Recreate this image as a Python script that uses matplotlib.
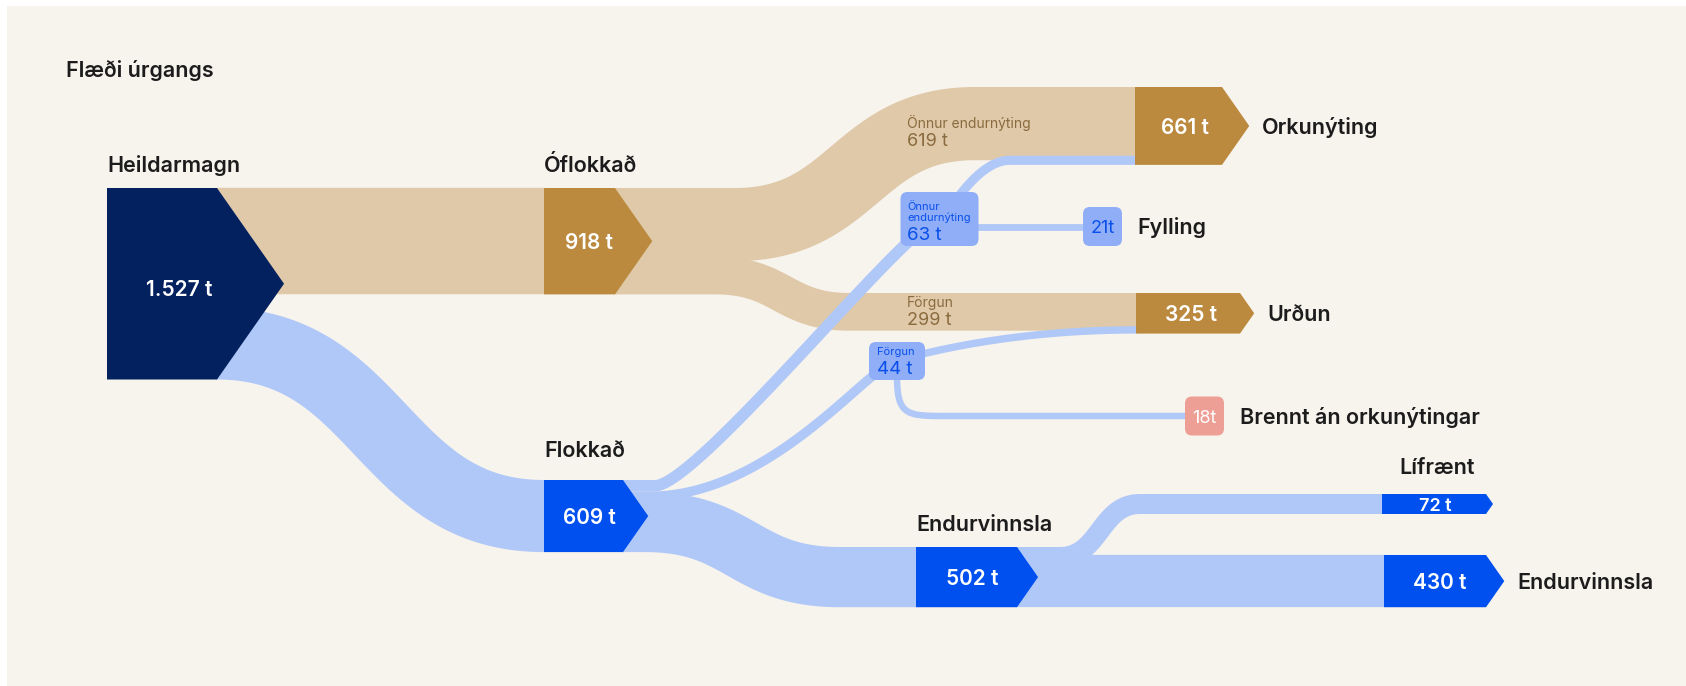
import numpy as np
import matplotlib.pyplot as plt
from matplotlib.patches import Polygon, FancyBboxPatch, Rectangle

plt.rcParams['font.family'] = ['Inter', 'DejaVu Sans']

# ---- gögn (tonn) ----
title = 'Flæði úrgangs'

node_keys = ['heild', 'ofl', 'fl', 'orka', 'urdun', 'endv', 'lif', 'endv2']
node_labels = ['Heildarmagn', 'Óflokkað', 'Flokkað', 'Orkunýting', 'Urðun',
               'Endurvinnsla', 'Lífrænt', 'Endurvinnsla']
node_values = [1527, 918, 609, 661, 325, 502, 72, 430]

box_keys = ['endn', 'forg', 'fyll', 'brennt']
box_labels = ['Önnur\nendurnýting', 'Förgun', 'Fylling', 'Brennt án orkunýtingar']
box_values = [63, 44, 21, 18]

link_src = ['heild', 'heild', 'ofl', 'ofl', 'fl', 'fl', 'fl', 'endn', 'endn', 'forg', 'forg', 'endv', 'endv']
link_dst = ['ofl', 'fl', 'orka', 'urdun', 'endn', 'forg', 'endv', 'orka', 'fyll', 'urdun', 'brennt', 'lif', 'endv2']
link_val = [918, 609, 619, 299, 63, 44, 502, 42, 21, 26, 18, 72, 430]

band_label_text = ['Önnur endurnýting', 'Förgun']
band_label_link = [2, 3]

# ---- útlit ----
W, H, DPI = 1686, 686, 100
PX_PER_T = 0.111
MIN_PX = 4.5
GAP = 13

BG = '#F7F3ED'
NAVY = '#03215F'
GOLD = '#BB8A3F'
TAN = '#E0C9A9'
BLUE = '#0050F0'
LBLUE = '#B0C8F8'
BOXBLUE = '#8FAEF7'
SALMON = '#EE9F95'
DARK = '#1C1C1C'
TANTXT = '#8A6B3F'
BOXTXT = '#0A4FEA'


def thick(v):
    return MIN_PX + PX_PER_T * v


def fmt(v, space=True):
    return f'{v:,}'.replace(',', '.') + (' t' if space else 't')


node_x = {'heild': 107, 'ofl': 544, 'fl': 544, 'orka': 1135, 'urdun': 1136,
          'endv': 916, 'lif': 1382, 'endv2': 1384}
node_top = {'heild': 188, 'ofl': 188, 'fl': 480, 'orka': 87, 'urdun': 293,
            'endv': 547, 'lif': 494}
node_rw = {'heild': 110, 'ofl': 71, 'fl': 79, 'orka': 87, 'urdun': 104,
           'endv': 101, 'lif': 104, 'endv2': 102}
node_col = {'heild': NAVY, 'ofl': GOLD, 'fl': BLUE, 'orka': GOLD, 'urdun': GOLD,
            'endv': BLUE, 'lif': BLUE, 'endv2': BLUE}
node_lab = {'heild': ('above', 24), 'ofl': ('above', 24), 'fl': ('above', 31),
            'endv': ('above', 23.5), 'lif': ('centre', 27.5),
            'orka': ('right', 13), 'urdun': ('right', 13), 'endv2': ('right', 13)}
node_val_size = {'lif': 13}
node_val_dy = {'heild': 5}

# box centre x, centre y, width, height, colour
box_geo = {'endn': (939.5, 219, 78, 54, BOXBLUE), 'forg': (897, 361, 56, 38, BOXBLUE),
           'fyll': (1102.5, 226.5, 39, 39, BOXBLUE), 'brennt': (1204.5, 416, 39, 39, SALMON)}

# link shapes: ('s', curve start x, curve end x, k0, k1)
link_shape = [('line',), ('s', 217, 544, .5, .5), ('s', 735, 975, .5, .5),
              ('s', 715, 850, .5, .5), ('s', 655, None, .15, .1), ('s', 650, None, .5, .1),
              ('s', 645, 840, .5, .5), ('s', None, 1010, .1, .5), ('hline',),
              ('s', None, 1136, 0, .6), ('corner',), ('s', 1060, 1140, .5, .5), ('line',)]
link_col = [TAN, LBLUE, TAN, TAN, LBLUE, LBLUE, LBLUE, LBLUE, LBLUE, LBLUE, LBLUE, LBLUE, LBLUE]
band_label_xy = [(907, 122.5), (907, 301.7)]

# ---- reikningur ----
vals = dict(zip(node_keys, node_values))
h = {k: thick(v) for k, v in vals.items()}
lw = [thick(v) for v in link_val]
h['heild'] = lw[0] + GAP + lw[1]
h['lif'] = max(h['lif'], 20)
lw[11] = h['lif']
node_top['endv2'] = node_top['endv'] + h['endv'] - h['endv2']


def ports(idx, top, height):
    ys = {}
    y = top
    for i in idx[:-1]:
        ys[i] = y + lw[i] / 2
        y += lw[i]
    ys[idx[-1]] = top + height - lw[idx[-1]] / 2
    return ys


out_y, in_y = {}, {}
for k in node_keys:
    o = [i for i, s in enumerate(link_src) if s == k]
    n = [i for i, d in enumerate(link_dst) if d == k]
    if o:
        out_y.update(ports(o, node_top[k], h[k]))
    if n:
        in_y.update(ports(n, node_top[k], h[k]))


def bezier(p0, p1, p2, p3, n=120):
    t = np.linspace(0, 1, n)[:, None]
    return ((1 - t) ** 3 * p0 + 3 * (1 - t) ** 2 * t * p1
            + 3 * (1 - t) * t ** 2 * p2 + t ** 3 * p3)


fig = plt.figure(figsize=(W / DPI, H / DPI), dpi=DPI, facecolor='white')
ax = fig.add_axes([0, 0, 1, 1])
ax.set_xlim(0, W)
ax.set_ylim(H, 0)
ax.axis('off')
ax.add_patch(Rectangle((7, 6), W - 7, H - 6, color=BG, zorder=0, lw=0))


def put(x, y, s, size, color, weight='normal', ha='left'):
    # y is the middle of the capitals
    ax.text(x, y + 0.3635 * size * DPI / 72, s, fontsize=size, color=color,
            fontweight=weight, ha=ha, va='baseline', zorder=10)


# links
for i in range(len(link_val)):
    s, d = link_src[i], link_dst[i]
    if s in node_x:
        x0, y0 = node_x[s] + node_rw[s] - 1, out_y[i]
    else:
        x0, y0 = box_geo[s][0], box_geo[s][1]
    if d in node_x:
        x1, y1 = node_x[d] + 1, in_y[i]
    else:
        x1, y1 = box_geo[d][0], box_geo[d][1]
    shp = link_shape[i]
    if shp[0] == 'line':
        pts = np.array([[x0, y0], [x1, y1]])
    elif shp[0] == 'hline':
        bx = box_geo[d]
        pts = np.array([[x0, bx[1]], [bx[0] - bx[2] / 2 + 1, bx[1]]])
    elif shp[0] == 'corner':
        bx = box_geo[d]
        ty = bx[1]
        c = bezier(np.array([x0, y0 + 15]), np.array([x0, ty]),
                   np.array([x0 + 10, ty]), np.array([x0 + 50, ty]))
        pts = np.vstack([[x0, y0], c, [bx[0] - bx[2] / 2 + 1, ty]])
    else:
        xb = shp[1] if shp[1] is not None else x0
        xc = shp[2] if shp[2] is not None else x1
        dx = xc - xb
        c = bezier(np.array([xb, y0]), np.array([xb + shp[3] * dx, y0]),
                   np.array([xc - shp[4] * dx, y1]), np.array([xc, y1]))
        pts = np.vstack([[x0, y0], c, [x1, y1]])
    z = 1 if link_col[i] == TAN else 2
    ax.plot(pts[:, 0], pts[:, 1], color=link_col[i], lw=lw[i] * 72 / DPI,
            solid_capstyle='butt', solid_joinstyle='round', zorder=z)

# nodes
for k, lab, v in zip(node_keys, node_labels, node_values):
    x0, top, rw, hh = node_x[k], node_top[k], node_rw[k], h[k]
    tip = 0.7 * hh / 2
    xr = x0 + rw
    poly = [(x0, top), (xr, top), (xr + tip, top + hh / 2), (xr, top + hh), (x0, top + hh)]
    ax.add_patch(Polygon(poly, closed=True, color=node_col[k], lw=0, zorder=4))
    put(x0 + rw / 2 + tip / 4, top + hh / 2 + node_val_dy.get(k, 0), fmt(v),
        node_val_size.get(k, 15), 'white', 'semibold', 'center')
    mode, off = node_lab[k]
    if mode == 'above':
        put(x0, top - off, lab, 15.5, DARK, 'semibold')
    elif mode == 'centre':
        put(x0 + (rw + tip) / 2, top - off, lab, 15.5, DARK, 'semibold', 'center')
    else:
        put(xr + tip + off, top + hh / 2, lab, 15.5, DARK, 'semibold')

# boxes
for k, lab, v in zip(box_keys, box_labels, box_values):
    cx, cy, bw, bh, col = box_geo[k]
    ax.add_patch(FancyBboxPatch((cx - bw / 2, cy - bh / 2), bw, bh,
                                boxstyle='round,pad=0,rounding_size=7',
                                color=col, lw=0, zorder=5))
    if k in ('endn', 'forg'):
        vy = cy + bh / 2 - 13
        lx = cx - bw / 2 + (6.5 if k == 'endn' else 8)
        put(lx, vy, fmt(v), 13.5, BOXTXT)
        lines = lab.split('\n')
        for j, ln in enumerate(lines):
            put(lx, vy - 16.3 - 10.7 * (len(lines) - 1 - j), ln, 8, BOXTXT)
    else:
        put(cx, cy, fmt(v, False), 13, BOXTXT if col == BOXBLUE else 'white', 'normal', 'center')
        put(cx + bw / 2 + 15.5, cy, lab, 15.5, DARK, 'semibold')

# labels on tan bands
for txt, li, (bx, by) in zip(band_label_text, band_label_link, band_label_xy):
    put(bx, by, txt, 10, TANTXT)
    put(bx, by + 16.5, fmt(link_val[li]), 13, TANTXT)

put(66, 69, title, 15.5, DARK, 'semibold')

fig.savefig('out.png', dpi=DPI, facecolor='white')
